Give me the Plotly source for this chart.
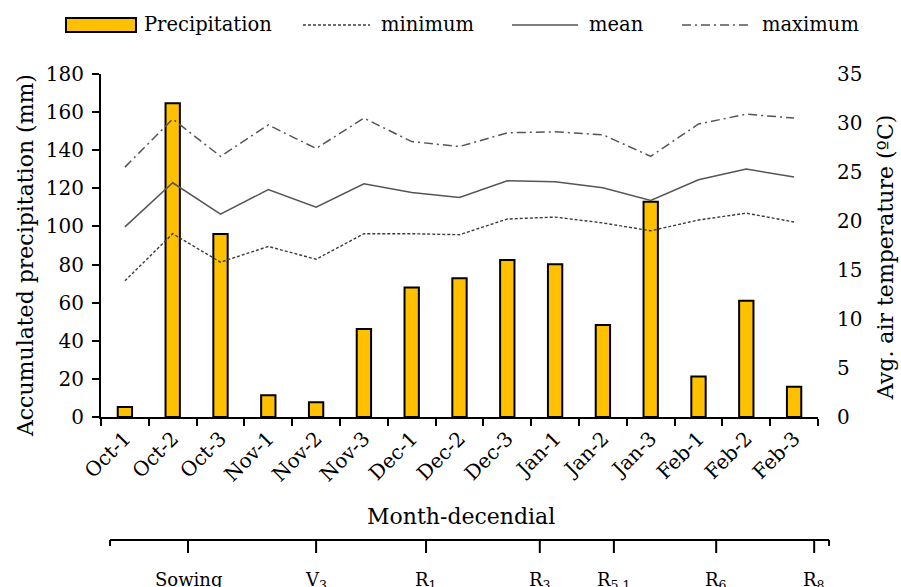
import plotly.graph_objects as go

# Decendial periods (ten-day intervals) of the growing season
periods = ["Oct-1", "Oct-2", "Oct-3", "Nov-1", "Nov-2", "Nov-3",
           "Dec-1", "Dec-2", "Dec-3", "Jan-1", "Jan-2", "Jan-3",
           "Feb-1", "Feb-2", "Feb-3"]

# Accumulated precipitation per period (mm)
precipitation = [5.2, 164.6, 96.0, 11.4, 7.7, 46.2, 68.0, 72.8, 82.4,
                 80.1, 48.3, 113.0, 21.2, 61.0, 15.9]

# Air temperature per period (°C)
temp_min = [13.9, 18.7, 15.8, 17.4, 16.1, 18.7, 18.7, 18.6, 20.2,
            20.4, 19.8, 19.0, 20.1, 20.8, 19.9]
temp_mean = [19.4, 23.9, 20.7, 23.2, 21.4, 23.8, 22.9, 22.4, 24.1,
             24.0, 23.4, 22.1, 24.2, 25.3, 24.5]
temp_max = [25.5, 30.4, 26.6, 29.8, 27.4, 30.5, 28.1, 27.6, 29.0,
            29.1, 28.8, 26.6, 29.9, 30.9, 30.5]

# Crop phenological stages, positioned on the period axis (category index)
stage_labels = ["Sowing", "V<sub>3</sub>", "R<sub>1</sub>", "R<sub>3</sub>",
                "R<sub>5.1</sub>", "R<sub>6</sub>", "R<sub>8</sub>"]
stage_pos = [1.32, 4.0, 6.30, 8.68, 10.23, 12.37, 14.42]

FONT = "DejaVu Serif"
BAR_COLOR = "#FFC000"

fig = go.Figure()

fig.add_trace(go.Bar(
    x=periods, y=precipitation, name="Precipitation",
    marker=dict(color=BAR_COLOR, line=dict(color="black", width=2)),
    width=0.3, yaxis="y",
))
fig.add_trace(go.Scatter(
    x=periods, y=temp_min, name="minimum", mode="lines", yaxis="y2",
    line=dict(color="#3c3c3c", width=1.4, dash="3px,2px"),
))
fig.add_trace(go.Scatter(
    x=periods, y=temp_mean, name="mean", mode="lines", yaxis="y2",
    line=dict(color="#555555", width=1.5),
))
fig.add_trace(go.Scatter(
    x=periods, y=temp_max, name="maximum", mode="lines", yaxis="y2",
    line=dict(color="#555555", width=1.5, dash="9px,4px,2px,4px"),
))

fig.update_layout(
    width=901, height=587,
    margin=dict(l=101, r=83, t=74, b=170),
    paper_bgcolor="white", plot_bgcolor="white",
    font=dict(family=FONT, size=20, color="black"),
    showlegend=False,
    xaxis=dict(
        type="category", range=[-0.5, 14.5],
        showline=True, linecolor="black", linewidth=2,
        ticks="outside", tickson="boundaries", ticklen=7, tickwidth=2,
        tickcolor="black", tickangle=-45, tickfont=dict(size=20),
        showgrid=False, zeroline=False,
    ),
    yaxis=dict(
        range=[0, 180], dtick=20,
        showline=True, linecolor="black", linewidth=2,
        ticks="outside", ticklen=7, tickwidth=2, tickcolor="black",
        tickfont=dict(size=20), showgrid=False, zeroline=False,
        ticklabelstandoff=4,
    ),
    yaxis2=dict(
        range=[0, 35], dtick=5, overlaying="y", side="right",
        showline=False, ticks="", showgrid=False, zeroline=False,
        tickfont=dict(size=20), ticklabelstandoff=18,
    ),
)

shapes = []
annotations = []

# Axis titles
annotations.append(dict(
    text="Accumulated precipitation (mm)", textangle=-90,
    x=-0.106, y=0.472, xref="paper", yref="paper",
    xanchor="center", yanchor="middle",
    showarrow=False, font=dict(size=22),
))
annotations.append(dict(
    text="Avg. air temperature (ºC)", textangle=-90,
    x=1.0934, y=0.466, xref="paper", yref="paper",
    xanchor="center", yanchor="middle",
    showarrow=False, font=dict(size=22),
))
annotations.append(dict(
    text="Month-decendial", x=0.502, y=-0.2915,
    xref="paper", yref="paper", xanchor="center", yanchor="middle",
    showarrow=False, font=dict(size=22),
))

# Legend row above the plot
legend_y = 1.143
shapes.append(dict(type="rect", xref="paper", yref="paper",
                   x0=-0.0488, x1=0.0488, y0=1.1224, y1=1.1633,
                   fillcolor=BAR_COLOR, line=dict(color="black", width=2)))
legend_lines = [
    ("minimum", 0.2817, 0.3752, dict(color="#3c3c3c", width=1.4, dash="3px,2px")),
    ("mean", 0.5732, 0.6653, dict(color="#555555", width=1.5)),
    ("maximum", 0.8103, 0.9066, dict(color="#555555", width=1.5, dash="9px,4px,2px,4px")),
]
annotations.append(dict(text="Precipitation", x=0.057, y=legend_y,
                        xref="paper", yref="paper", xanchor="left",
                        yanchor="middle", showarrow=False,
                        font=dict(size=19.5)))
for name, lx0, lx1, lstyle in legend_lines:
    shapes.append(dict(type="line", xref="paper", yref="paper",
                       x0=lx0, x1=lx1, y0=legend_y, y1=legend_y,
                       line=lstyle))
    annotations.append(dict(text=name, x=lx1 + 0.0125, y=legend_y,
                            xref="paper", yref="paper", xanchor="left",
                            yanchor="middle", showarrow=False,
                            font=dict(size=19.5)))

# Phenological stage axis below the chart
line_y = -0.3586
shapes.append(dict(type="line", xref="paper", yref="paper",
                   x0=0.0126, x1=1.0154, y0=line_y, y1=line_y,
                   line=dict(color="black", width=2)))
for ex in (0.0126, 1.0154):
    shapes.append(dict(type="line", xref="paper", yref="paper",
                       x0=ex, x1=ex, y0=line_y, y1=-0.376,
                       line=dict(color="black", width=2)))
for label, pos in zip(stage_labels, stage_pos):
    shapes.append(dict(type="line", xref="x", yref="paper",
                       x0=pos, x1=pos, y0=line_y, y1=-0.3965,
                       line=dict(color="black", width=2)))
    annotations.append(dict(text=label, x=pos, y=-0.438, xref="x",
                            yref="paper", xanchor="center", yanchor="top",
                            showarrow=False, font=dict(size=18)))

fig.update_layout(shapes=shapes, annotations=annotations)

fig.write_html("out.html")
